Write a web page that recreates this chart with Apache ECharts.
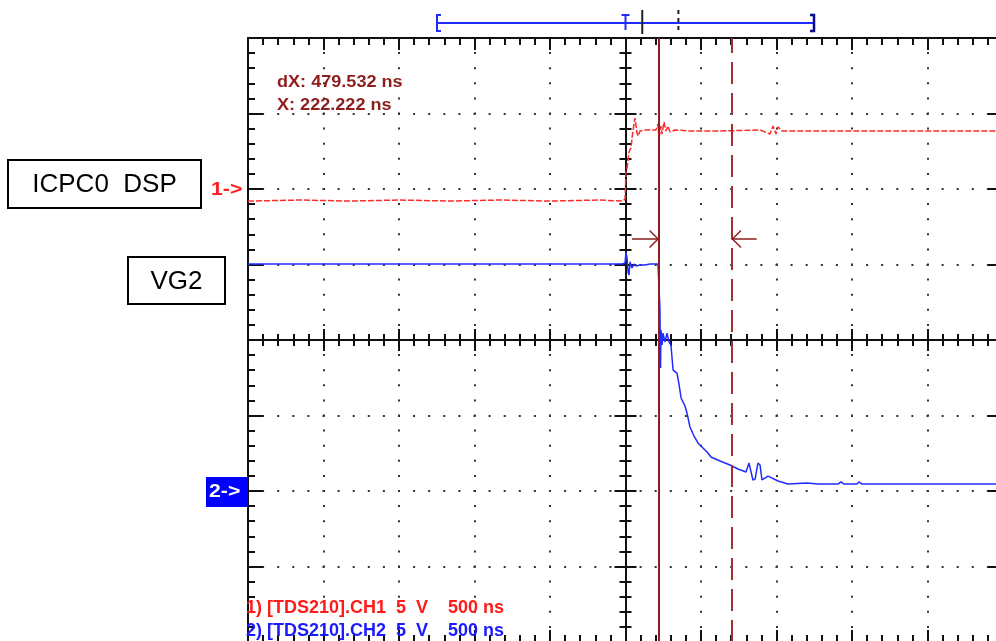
<!DOCTYPE html>
<html><head><meta charset="utf-8">
<script src="https://cdn.jsdelivr.net/npm/echarts@6/dist/echarts.min.js"></script>
<style>html,body{margin:0;padding:0;background:#fff}#c{width:996px;height:641px}</style>
</head><body><div id="c"></div>
<script>
// ---- data ----
const timeRangeNs = [-2500, 2500];
const timeDivNs = 500;
const screenDivRange = [-4, 4];
const ch1RangeV = [-30, 10];   // CH1 5 V/div, ground marker 2 div above centre
const ch2RangeV = [-10, 30];   // CH2 5 V/div, ground marker 2 div below centre
const cursorNs = [222.222, 701.754];

const ch1TimeNs = [-2500, -2156, -1825, -1494, -1163, -831, -500, -169, -17, -3, 3, 10, 17, 23, 36, 50, 63, 70, 76, 83, 96, 129, 202, 215, 222, 235, 242, 255, 268, 281, 295, 328, 427, 626, 891, 957, 977, 997, 1010, 1036, 1288, 1817, 2500];
const ch1Volts  = [-0.80, -0.73, -0.80, -0.73, -0.80, -0.73, -0.80, -0.73, -0.80, -0.66, 1.13, 1.39, 1.92, 2.45, 2.72, 3.91, 4.70, 4.57, 3.71, 3.51, 3.84, 3.91, 3.91, 4.30, 3.38, 4.17, 3.64, 4.44, 3.84, 4.17, 3.77, 3.91, 3.84, 3.84, 3.91, 3.64, 4.17, 3.64, 4.11, 3.84, 3.84, 3.84, 3.84];

const ch2TimeNs = [-2500, -1494, -500, -23, -3, 3, 10, 17, 23, 30, 43, 56, 70, 96, 129, 162, 215, 222, 228, 232, 235, 242, 248, 262, 275, 288, 301, 315, 341, 354, 368, 394, 407, 427, 454, 480, 513, 540, 566, 626, 692, 745, 798, 818, 831, 844, 858, 877, 891, 904, 917, 944, 1010, 1076, 1202, 1275, 1407, 1427, 1447, 1533, 1546, 1566, 2500];
const ch2Volts  = [15.03, 15.03, 15.03, 15.03, 15.10, 15.83, 15.43, 14.50, 14.30, 15.17, 14.77, 15.03, 14.90, 14.97, 14.97, 15.03, 15.03, 15.03, 12.12, 8.15, 10.66, 9.67, 10.46, 9.87, 10.46, 9.87, 9.67, 8.01, 7.81, 7.09, 6.16, 5.63, 5.17, 4.24, 3.64, 3.18, 2.85, 2.58, 2.25, 1.99, 1.72, 1.46, 1.26, 1.85, 1.85, 0.73, 0.79, 1.85, 1.72, 0.73, 0.86, 0.99, 0.66, 0.46, 0.53, 0.46, 0.46, 0.60, 0.46, 0.46, 0.60, 0.46, 0.46];

const arrowV = -3.31;               // height of the cursor arrows (CH1 volts)
const arrowStartNs = [43, 869];

const boxLabels = ['ICPC0  DSP', 'VG2'];
const markerLabels = ['1->', '2->'];
const statusLines = ['1) [TDS210].CH1  5  V    500 ns', '2) [TDS210].CH2  5  V    500 ns'];

// ---- chart ----
const zip = (a, b) => a.map((v, i) => [v, b[i]]);
const chart = echarts.init(document.getElementById('c'), null, {renderer: 'canvas'});

const INK = '#111';
const frameLine = {show: true, onZero: false, lineStyle: {color: INK, width: 2}};
const dotLine = {show: true, lineStyle: {color: '#333', width: 2, type: [2, 13.1], dashOffset: 1}};
function axis(dim, pos, offset, inside, major, minor, split, line) {
  const isX = dim === 'x';
  return {
    type: 'value', gridIndex: 0,
    min: isX ? timeRangeNs[0] : screenDivRange[0],
    max: isX ? timeRangeNs[1] : screenDivRange[1],
    interval: isX ? timeDivNs : 1,
    position: pos, offset: offset,
    axisLine: line === false ? {show: false, onZero: false} : frameLine,
    axisTick: {show: true, inside: inside, length: major, lineStyle: {color: INK, width: 2}},
    minorTick: {show: true, splitNumber: 5, length: minor, lineStyle: {color: INK, width: 2}},
    splitLine: split ? dotLine : {show: false},
    axisLabel: {show: false}
  };
}

const chevron = 'path://M0,0 L9,9 L8,10 L0,2 L-8,10 L-9,9 Z M-9,-10 L-8.9,-10 Z';
const cursorColor = '#8e1d1d';
const dxText = 'dX: ' + (cursorNs[1] - cursorNs[0]).toFixed(3) + ' ns';
const xText = 'X: ' + cursorNs[0].toFixed(3) + ' ns';

// mini record bar above the screen (half scale)
const miniLeft = 437, miniWidth = 377, miniY = 23;
const mini = ns => miniLeft + (ns - timeRangeNs[0]) / (timeRangeNs[1] - timeRangeNs[0]) * miniWidth;
const BLUE = '#1e2cff';

const font = 'Liberation Sans, Arial, sans-serif';

chart.setOption({
  animation: false,
  backgroundColor: '#fff',
  grid: {left: 248, top: 38, width: 755, height: 604, containLabel: false, outerBoundsMode: 'none'},
  xAxis: [
    axis('x', 'top', 0, true, 12, 7, true),
    axis('x', 'bottom', 0, true, 12, 7, false),
    axis('x', 'bottom', -302, true, 11, 6, false),
    axis('x', 'bottom', -302, false, 11, 6, false)
  ],
  yAxis: [
    axis('y', 'left', 0, true, 15, 7, true),
    axis('y', 'right', 0, true, 15, 7, false),
    axis('y', 'left', -377.5, true, 11, 6, false),
    axis('y', 'left', -377.5, false, 11, 6, false),
    {type: 'value', min: ch1RangeV[0], max: ch1RangeV[1], show: false, axisLine: {onZero: false}},
    {type: 'value', min: ch2RangeV[0], max: ch2RangeV[1], show: false, axisLine: {onZero: false}}
  ],
  series: [
    {
      type: 'line', name: 'CH2', xAxisIndex: 0, yAxisIndex: 5,
      data: zip(ch2TimeNs, ch2Volts), symbol: 'none', z: 3,
      lineStyle: {color: BLUE, width: 1.5}
    },
    {
      type: 'line', name: 'CH1', xAxisIndex: 0, yAxisIndex: 4,
      data: zip(ch1TimeNs, ch1Volts), symbol: 'none', z: 4,
      lineStyle: {color: '#ff2a2a', width: 1.5, type: [6, 2]},
      markLine: {
        silent: true, symbol: 'none', label: {show: false}, animation: false,
        emphasis: {disabled: true},
        data: [
          {xAxis: cursorNs[0], lineStyle: {color: cursorColor, width: 2, type: 'solid'}},
          {xAxis: cursorNs[1], lineStyle: {color: '#a33030', width: 2, type: [22, 9]}},
          [{coord: [arrowStartNs[0], arrowV], symbol: 'none', lineStyle: {color: cursorColor, width: 1.5, type: 'solid'}},
           {coord: [cursorNs[0], arrowV], symbol: chevron, symbolSize: [18, 20]}],
          [{coord: [arrowStartNs[1], arrowV], symbol: 'none', lineStyle: {color: cursorColor, width: 1.5, type: 'solid'}},
           {coord: [cursorNs[1], arrowV], symbol: chevron, symbolSize: [18, 20]}]
        ]
      }
    }
  ],
  graphic: [
    // label boxes
    {type: 'rect', shape: {x: 8, y: 160, width: 193, height: 48}, style: {fill: '#fff', stroke: '#000', lineWidth: 2}, z: 10},
    {type: 'text', x: 104.5, y: 185, style: {text: boxLabels[0], font: '26px ' + font, fill: '#000', align: 'center', verticalAlign: 'middle'}, z: 11},
    {type: 'rect', shape: {x: 128, y: 257, width: 97, height: 47}, style: {fill: '#fff', stroke: '#000', lineWidth: 2}, z: 10},
    {type: 'text', x: 176.5, y: 282, style: {text: boxLabels[1], font: '26px ' + font, fill: '#000', align: 'center', verticalAlign: 'middle'}, z: 11},
    // channel markers
    {type: 'text', x: 211, y: 190, scaleX: 1.18, style: {text: markerLabels[0], font: 'bold 18px ' + font, fill: '#ff2020', align: 'left', verticalAlign: 'middle'}, z: 11},
    {type: 'rect', shape: {x: 206, y: 477, width: 42, height: 30}, style: {fill: '#0000ff'}, z: 10},
    {type: 'text', x: 209, y: 492, scaleX: 1.18, style: {text: markerLabels[1], font: 'bold 18px ' + font, fill: '#fff', align: 'left', verticalAlign: 'middle'}, z: 11},
    // cursor readouts
    {type: 'text', x: 277, y: 83, scaleX: 1.13, style: {text: dxText, font: 'bold 16px ' + font, fill: '#8e1d1d', align: 'left', verticalAlign: 'middle'}, z: 11},
    {type: 'text', x: 277, y: 106, scaleX: 1.13, style: {text: xText, font: 'bold 16px ' + font, fill: '#8e1d1d', align: 'left', verticalAlign: 'middle'}, z: 11},
    // status lines
    {type: 'text', x: 246, y: 608, style: {text: statusLines[0], font: 'bold 18px ' + font, fill: '#ff1a1a', align: 'left', verticalAlign: 'middle'}, z: 11},
    {type: 'text', x: 246, y: 631, style: {text: statusLines[1], font: 'bold 18px ' + font, fill: '#1a1aff', align: 'left', verticalAlign: 'middle'}, z: 11},
    // mini record bar
    {type: 'line', shape: {x1: mini(timeRangeNs[0]), y1: miniY, x2: mini(timeRangeNs[1]), y2: miniY}, style: {stroke: BLUE, lineWidth: 2}, z: 10},
    {type: 'polyline', shape: {points: [[mini(timeRangeNs[0]) + 4, 15], [mini(timeRangeNs[0]), 15], [mini(timeRangeNs[0]), 31], [mini(timeRangeNs[0]) + 4, 31]]}, style: {stroke: BLUE, lineWidth: 2, fill: null}, z: 10},
    {type: 'polyline', shape: {points: [[mini(timeRangeNs[1]) - 4, 15], [mini(timeRangeNs[1]), 15], [mini(timeRangeNs[1]), 31], [mini(timeRangeNs[1]) - 4, 31]]}, style: {stroke: '#0a0a90', lineWidth: 2.5, fill: null}, z: 10},
    {type: 'line', shape: {x1: mini(0) - 4, y1: 15, x2: mini(0) + 4, y2: 15}, style: {stroke: BLUE, lineWidth: 2}, z: 10},
    {type: 'line', shape: {x1: mini(0), y1: 15, x2: mini(0), y2: 30}, style: {stroke: BLUE, lineWidth: 2}, z: 10},
    {type: 'line', shape: {x1: mini(cursorNs[0]), y1: 10, x2: mini(cursorNs[0]), y2: 34}, style: {stroke: '#222', lineWidth: 2}, z: 11},
    {type: 'line', shape: {x1: mini(cursorNs[1]), y1: 10, x2: mini(cursorNs[1]), y2: 34}, style: {stroke: '#222', lineWidth: 2, lineDash: [4, 4]}, z: 11}
  ]
});
</script>
</body></html>
